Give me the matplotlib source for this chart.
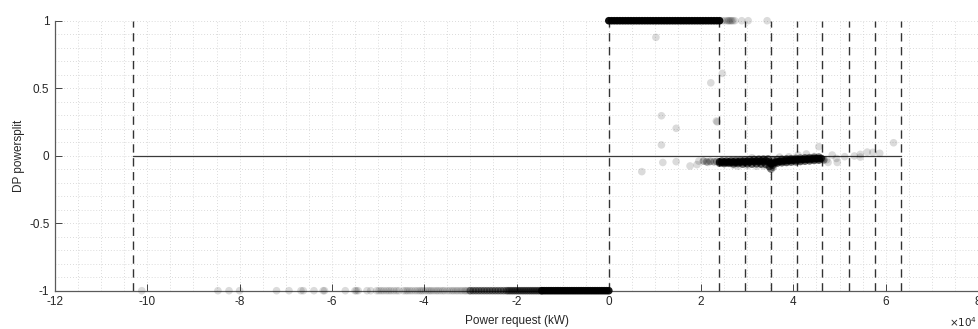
import matplotlib
matplotlib.use("Agg")
import matplotlib.pyplot as plt
from matplotlib.ticker import MultipleLocator

plt.rcParams['font.family'] = ['Liberation Sans', 'DejaVu Sans']

# Power request in units of 1e4 kW
# --- split = 1 (engine only) ---
hi_dense_x = [0.00, 0.06, 0.12, 0.18, 0.24, 0.30, 0.36, 0.42, 0.48, 0.54, 0.60, 0.66,
              0.72, 0.78, 0.84, 0.90, 0.96, 1.02, 1.08, 1.14, 1.20, 1.26, 1.32, 1.38,
              1.44, 1.50, 1.56, 1.62, 1.68, 1.74, 1.80, 1.86, 1.92, 1.98, 2.04, 2.10,
              2.16, 2.22, 2.28, 2.34, 2.40]
hi_sparse_x = [2.46, 2.51, 2.56, 2.59, 2.61, 2.64, 2.66, 2.69, 2.73, 2.88, 3.02, 3.43]

# --- split = -1 (regeneration) ---
lo_sparse_x = [-10.12, -8.47, -8.23, -8.00, -7.20, -6.93, -6.67, -6.62, -6.39, -6.19,
               -6.16, -5.71, -5.50, -5.47, -5.43, -5.24, -5.16, -5.03, -4.98, -4.93,
               -4.88, -4.82, -4.77, -4.72, -4.66, -4.60, -4.55, -4.45, -4.40, -4.36,
               -4.31, -4.26, -4.20, -4.15, -4.10, -4.06, -4.02, -3.97, -3.92, -3.88,
               -3.84, -3.79, -3.74, -3.70, -3.65, -3.60, -3.56, -3.50, -3.45, -3.40,
               -3.36, -3.31, -3.27, -3.22, -3.18, -3.13, -3.10, -3.06, -3.02]
lo_mid_x = [-3.00, -2.94, -2.88, -2.82, -2.76, -2.70, -2.64, -2.58, -2.52, -2.46,
            -2.40, -2.34, -2.28, -2.22, -2.18, -2.14, -2.10, -2.06, -2.02, -1.98,
            -1.94, -1.90, -1.86, -1.82, -1.78, -1.74, -1.70, -1.66, -1.62, -1.58,
            -1.54, -1.50, -1.46]
lo_dense_x = [-1.45, -1.40, -1.35, -1.30, -1.25, -1.20, -1.15, -1.10, -1.05, -1.00,
              -0.95, -0.90, -0.85, -0.80, -0.75, -0.70, -0.65, -0.60, -0.55, -0.50,
              -0.45, -0.40, -0.35, -0.30, -0.25, -0.20, -0.15, -0.10, -0.05, 0.00]

# --- hybrid operation near zero split ---
band_x = [2.40, 2.45, 2.50, 2.55, 2.60, 2.65, 2.70, 2.75, 2.80, 2.85, 2.90, 2.95,
          3.00, 3.05, 3.10, 3.15, 3.20, 3.25, 3.30, 3.35, 3.40, 3.45, 3.50, 3.52,
          3.55, 3.60, 3.65, 3.70, 3.75, 3.80, 3.85, 3.90, 3.95, 4.00, 4.05, 4.10,
          4.15, 4.20, 4.25, 4.30, 4.35, 4.40, 4.45, 4.50, 4.55, 4.60]
band_y = [-0.045, -0.050, -0.045, -0.050, -0.045, -0.050, -0.045, -0.050, -0.045, -0.048,
          -0.043, -0.048, -0.042, -0.047, -0.040, -0.045, -0.038, -0.044, -0.037, -0.045,
          -0.035, -0.045, -0.055, -0.060, -0.055, -0.050, -0.045, -0.042, -0.040, -0.038,
          -0.037, -0.035, -0.034, -0.033, -0.032, -0.030, -0.030, -0.028, -0.027, -0.026,
          -0.025, -0.024, -0.023, -0.022, -0.022, -0.020]
band_lo_x = [2.40, 2.50, 2.60, 2.70, 2.80, 2.90, 3.00, 3.10, 3.20, 3.30, 3.40, 3.48,
             3.55, 3.65, 3.75, 3.85, 3.95, 4.05, 4.15, 4.25, 4.35, 4.45, 4.55]
band_lo_y = [-0.055, -0.058, -0.056, -0.060, -0.058, -0.062, -0.060, -0.062, -0.060,
             -0.062, -0.065, -0.080, -0.070, -0.055, -0.052, -0.050, -0.047, -0.045,
             -0.043, -0.040, -0.038, -0.035, -0.033]
band_hi_x = [2.45, 2.55, 2.65, 2.75, 2.85, 2.95, 3.05, 3.15, 3.25, 3.35, 3.45, 3.55,
             3.65, 3.75, 3.85, 3.95, 4.05, 4.15, 4.25, 4.35, 4.45, 4.55]
band_hi_y = [-0.038, -0.038, -0.036, -0.035, -0.034, -0.032, -0.030, -0.028, -0.026,
             -0.025, -0.024, -0.030, -0.028, -0.026, -0.024, -0.022, -0.020, -0.018,
             -0.016, -0.014, -0.012, -0.010]
band_edge_x = [2.05, 2.12, 2.20, 2.28, 2.34, 3.50, 3.52, 3.56, 4.62, 4.66]
band_edge_y = [-0.040, -0.045, -0.042, -0.045, -0.043, -0.095, -0.100, -0.085,
               -0.025, -0.030]

scatter_x = [1.02, 2.46, 2.21, 1.14, 1.46, 2.33, 2.35, 1.14, 4.55, 6.17, 0.715, 1.17,
             1.46, 1.76, 1.91, 1.95, 2.15, 4.28, 4.84, 4.95, 4.93, 5.11,
             5.32, 5.45, 5.45, 5.60, 5.72, 5.87, 4.72, 4.75, 2.80, 3.00, 3.20, 3.35,
             2.70, 3.10, 3.70, 3.90, 4.10, 4.45, 4.65]
scatter_y = [0.877, 0.610, 0.540, 0.296, 0.203, 0.257, 0.250, 0.080, 0.067, 0.096, -0.118,
             -0.050, -0.044, -0.076, -0.066, -0.040, -0.050, 0.013, 0.005,
             -0.050, -0.020, -0.007, -0.002, 0.010, -0.010, 0.027, 0.025, 0.018, -0.030,
             -0.050, -0.078, -0.075, -0.078, -0.075, -0.070, -0.015, -0.010, -0.008,
             0.005, -0.005, -0.035]

# DP grid boundaries
boundary_x = [-10.31, 0.0, 2.39, 2.95, 3.51, 4.07, 4.63, 5.20, 5.76, 6.33]

fig = plt.figure(figsize=(9.79, 3.29), dpi=100)
ax = fig.add_axes([0.0562, 0.1164, 0.9428, 0.8206])

ax.set_xlim(-12, 8)
ax.set_ylim(-1, 1)

# dotted grid on a fine spacing
ax.xaxis.set_major_locator(MultipleLocator(2))
ax.xaxis.set_minor_locator(MultipleLocator(0.5))
ax.yaxis.set_major_locator(MultipleLocator(0.5))
ax.yaxis.set_minor_locator(MultipleLocator(0.1))
ax.grid(which='both', linestyle=(0, (1, 2.5)), color='#cfcfcf', linewidth=0.6)
ax.tick_params(which='minor', length=0)
ax.set_axisbelow(True)

for b in boundary_x:
    ax.plot([b, b], [-1, 1], color='#333333', linewidth=1.0,
            linestyle=(0, (6, 4)), zorder=2)
ax.plot([boundary_x[0], boundary_x[-1]], [0, 0], color='#3a3a3a', linewidth=0.9, zorder=2)

ms = 30


def dots(xs, ys, alpha):
    ax.scatter(xs, ys, s=ms, c='k', alpha=alpha, edgecolors='none', zorder=3,
               clip_on=False)


dots(lo_sparse_x, [-1] * len(lo_sparse_x), 0.14)
dots(lo_mid_x, [-1] * len(lo_mid_x), 0.45)
dots(lo_dense_x, [-1] * len(lo_dense_x), 0.9)
dots(hi_dense_x, [1] * len(hi_dense_x), 0.95)
dots(hi_sparse_x, [1] * len(hi_sparse_x), 0.14)
dots(band_x, band_y, 0.75)
dots(band_lo_x, band_lo_y, 0.6)
dots(band_hi_x, band_hi_y, 0.5)
dots(band_edge_x, band_edge_y, 0.3)
dots(scatter_x, scatter_y, 0.14)

for side in ('top', 'right'):
    ax.spines[side].set_visible(False)
for side in ('left', 'bottom'):
    ax.spines[side].set_color('#5a5a5a')
    ax.spines[side].set_linewidth(0.9)

ax.tick_params(which='major', direction='in', length=5, width=0.7, color='#444444',
               labelsize=8.5, labelcolor='#262626', pad=4)
ax.set_xticks([-12, -10, -8, -6, -4, -2, 0, 2, 4, 6, 8])
ax.set_xticklabels(['-12', '-10', '-8', '-6', '-4', '-2', '0', '2', '4', '6', '8'])
ax.set_yticks([-1, -0.5, 0, 0.5, 1])
ax.set_yticklabels(['-1', '-0.5', '0', '0.5', '1'])

ax.set_xlabel('Power request (kW)', fontsize=8.5, color='#262626', labelpad=5)
ax.set_ylabel('DP powersplit', fontsize=8.5, color='#262626', labelpad=3)

fig.text(949 / 979, 1 - 322 / 329, r'$\times10^{4}$', fontsize=7.5, color='#262626',
         ha='left', va='center')

fig.savefig('out.png', dpi=100)
